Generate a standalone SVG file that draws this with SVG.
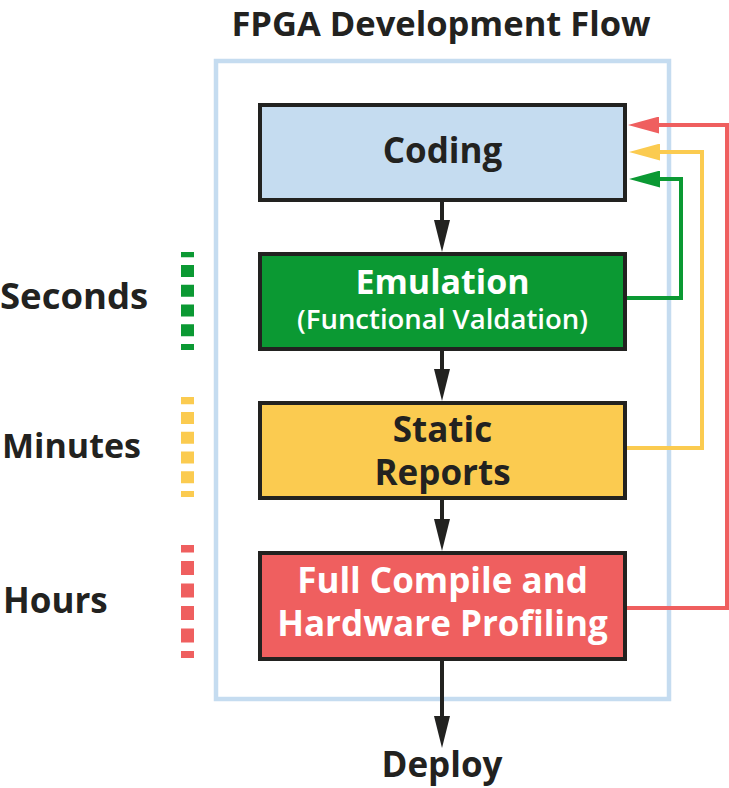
<svg xmlns="http://www.w3.org/2000/svg" width="729" height="788" viewBox="0 0 729 788">
<style>
text{font-family:"Open Sans","Noto Sans","Liberation Sans",sans-serif;font-weight:700;}
.c{text-anchor:middle;}
.dk{fill:#222220;}
.wt{fill:#ffffff;}
.box{stroke:#222220;stroke-width:4;}
.t35{font-size:35px;}
.lbl{font-size:35px;fill:#222220;}
.cn{fill:none;stroke-width:4;}
</style>
<defs>
<marker id="ahK" viewBox="0 0 32 16" refX="0" refY="8" markerWidth="32" markerHeight="16" markerUnits="userSpaceOnUse" orient="auto"><path d="M0,0 L32,8 L0,16 Z" fill="#222220"/></marker>
<marker id="ahR" viewBox="0 0 31 17" refX="0" refY="8.5" markerWidth="31" markerHeight="17" markerUnits="userSpaceOnUse" orient="auto"><path d="M0,0 L31,8.5 L0,17 Z" fill="#ef5f5f"/></marker>
<marker id="ahY" viewBox="0 0 31 17" refX="0" refY="8.5" markerWidth="31" markerHeight="17" markerUnits="userSpaceOnUse" orient="auto"><path d="M0,0 L31,8.5 L0,17 Z" fill="#fbcb50"/></marker>
<marker id="ahG" viewBox="0 0 31 17" refX="0" refY="8.5" markerWidth="31" markerHeight="17" markerUnits="userSpaceOnUse" orient="auto"><path d="M0,0 L31,8.5 L0,17 Z" fill="#0b9933"/></marker>
</defs>
<rect width="729" height="788" fill="#ffffff"/>
<text class="c dk" x="441" y="35.5" font-size="34.5">FPGA Development Flow</text>
<rect id="frame" x="216" y="61" width="453" height="638" fill="none" stroke="#c5dcf0" stroke-width="4.5"/>

<g id="timescale">
<line x1="187.5" y1="252" x2="187.5" y2="350" stroke="#0b9933" stroke-width="13" stroke-dasharray="12 7.75" stroke-dashoffset="6.75"/>
<line x1="187.5" y1="397" x2="187.5" y2="497" stroke="#fbcb50" stroke-width="13" stroke-dasharray="12 7.75" stroke-dashoffset="4.75"/>
<line x1="187.5" y1="545" x2="187.5" y2="658" stroke="#ef5f5f" stroke-width="13" stroke-dasharray="14 8.5" stroke-dashoffset="6.5"/>
<text class="lbl" x="0" y="309" style="font-size:36.5px">Seconds</text>
<text class="lbl" x="2" y="458" style="font-size:34px">Minutes</text>
<text class="lbl" x="3" y="613">Hours</text>
</g>

<g id="connectors">
<line class="cn" x1="442" y1="202" x2="442" y2="220" stroke="#222220" marker-end="url(#ahK)"/>
<line class="cn" x1="442" y1="351" x2="442" y2="369" stroke="#222220" marker-end="url(#ahK)"/>
<line class="cn" x1="442" y1="500" x2="442" y2="519" stroke="#222220" marker-end="url(#ahK)"/>
<line class="cn" x1="442" y1="661" x2="442" y2="716" stroke="#222220" marker-end="url(#ahK)"/>
<path class="cn" d="M627,608 H727 V125 H659" stroke="#ef5f5f" marker-end="url(#ahR)"/>
<path class="cn" d="M627,448 H702 V152 H660" stroke="#fbcb50" marker-end="url(#ahY)"/>
<path class="cn" d="M627,298 H681 V179 H660" stroke="#0b9933" marker-end="url(#ahG)"/>
</g>

<g id="coding">
<rect class="box" x="260" y="105" width="365" height="95" fill="#c5dcf0"/>
<text class="c dk t35" x="442.5" y="163">Coding</text>
</g>
<g id="emulation">
<rect class="box" x="260" y="254" width="365" height="95" fill="#0b9933"/>
<text class="c wt" x="442.5" y="294" font-size="34">Emulation</text>
<text class="c wt" x="442.5" y="329" font-size="27.5" style="font-weight:600">(Functional Valdation)</text>
</g>
<g id="static">
<rect class="box" x="260" y="403" width="365" height="95" fill="#fbcb50"/>
<text class="c dk t35" x="442.5" y="442">Static</text>
<text class="c dk t35" x="442.5" y="485">Reports</text>
</g>
<g id="fullcompile">
<rect class="box" x="260" y="553" width="365" height="106" fill="#ef5f5f"/>
<text class="c wt t35" x="442.5" y="593">Full Compile and</text>
<text class="c wt t35" x="442.5" y="636">Hardware Profiling</text>
</g>
<g id="deploy">
<text class="c dk t35" x="442" y="777">Deploy</text>
</g>
</svg>
